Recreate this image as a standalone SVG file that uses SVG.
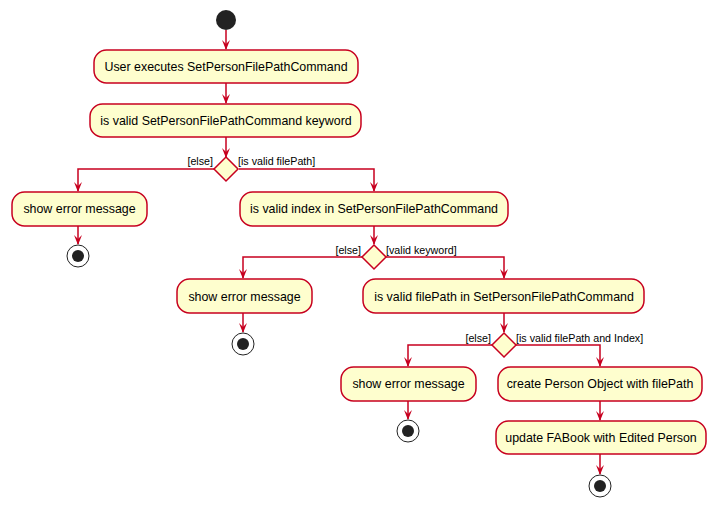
<svg xmlns="http://www.w3.org/2000/svg" width="715" height="506" viewBox="0 0 715 506">
<style>
.box{fill:#FEFECE;stroke:#C7001F;stroke-width:1.5}
.dia{fill:#FEFECE;stroke:#C7001F;stroke-width:1.5}
.t{font-family:"Liberation Sans",Arial,sans-serif;font-size:12.4px;fill:#000;text-anchor:middle}
.l{font-family:"Liberation Sans",Arial,sans-serif;font-size:10.7px;fill:#000}
.e{text-anchor:end}
.c{fill:none;stroke:#C7001F;stroke-width:1.5}
.ah{fill:#C7001F}
.end-o{fill:#fff;stroke:#222;stroke-width:1}
.dot{fill:#222}
</style>
<g id="connectors">
<path class="c" d="M226,30 V49"/>
<polygon class="ah" points="222,40 226,50 230,40 226,44"/>
<path class="c" d="M226,83 V103"/>
<polygon class="ah" points="222,94 226,104 230,94 226,98"/>
<path class="c" d="M226,137 V157"/>
<polygon class="ah" points="222,148 226,158 230,148 226,152"/>
<path class="c" d="M214,169 H78 V191"/>
<polygon class="ah" points="74,182 78,192 82,182 78,186"/>
<path class="c" d="M239,169 H374 V191"/>
<polygon class="ah" points="370,182 374,192 378,182 374,186"/>
<path class="c" d="M78,226 V244"/>
<polygon class="ah" points="74,235 78,245 82,235 78,239"/>
<path class="c" d="M374,226 V244"/>
<polygon class="ah" points="370,235 374,245 378,235 374,239"/>
<path class="c" d="M362,257 H243 V278"/>
<polygon class="ah" points="239,269 243,279 247,269 243,273"/>
<path class="c" d="M386,257 H504 V278"/>
<polygon class="ah" points="500,269 504,279 508,269 504,273"/>
<path class="c" d="M243,313 V332"/>
<polygon class="ah" points="239,323 243,333 247,323 243,327"/>
<path class="c" d="M504,313 V332"/>
<polygon class="ah" points="500,323 504,333 508,323 504,327"/>
<path class="c" d="M492,345 H408 V366"/>
<polygon class="ah" points="404,357 408,367 412,357 408,361"/>
<path class="c" d="M516,345 H600 V366"/>
<polygon class="ah" points="596,357 600,367 604,357 600,361"/>
<path class="c" d="M408,401 V419"/>
<polygon class="ah" points="404,410 408,420 412,410 408,414"/>
<path class="c" d="M600,401 V420"/>
<polygon class="ah" points="596,411 600,421 604,411 600,415"/>
<path class="c" d="M600,454 V474"/>
<polygon class="ah" points="596,465 600,475 604,465 600,469"/>
<text class="l e" x="213" y="165">[else]</text>
<text class="l" x="238" y="165">[is valid filePath]</text>
<text class="l e" x="361" y="254">[else]</text>
<text class="l" x="386" y="254">[valid keyword]</text>
<text class="l e" x="491" y="342">[else]</text>
<text class="l" x="516" y="342">[is valid filePath and Index]</text>
</g>
<g id="start"><circle class="dot" cx="226" cy="20" r="10"/></g>
<g id="n1"><rect class="box" x="94" y="50" width="264" height="33" rx="12.5"/><text class="t" x="226" y="71">User executes SetPersonFilePathCommand</text></g>
<g id="n2"><rect class="box" x="90" y="104" width="271" height="33" rx="12.5"/><text class="t" x="226" y="125">is valid SetPersonFilePathCommand keyword</text></g>
<g id="d1"><polygon class="dia" points="226,157 238,169 226,181 214,169"/></g>
<g id="n3"><rect class="box" x="12" y="192" width="135" height="34" rx="12.5"/><text class="t" x="79.5" y="213">show error message</text></g>
<g id="end1"><circle class="end-o" cx="78" cy="256" r="11"/><circle class="dot" cx="78" cy="256" r="6"/></g>
<g id="n4"><rect class="box" x="240" y="192" width="268" height="34" rx="12.5"/><text class="t" x="374" y="213">is valid index in SetPersonFilePathCommand</text></g>
<g id="d2"><polygon class="dia" points="374,245 386,257 374,269 362,257"/></g>
<g id="n5"><rect class="box" x="177" y="279" width="135" height="34" rx="12.5"/><text class="t" x="244.5" y="301">show error message</text></g>
<g id="end2"><circle class="end-o" cx="243" cy="344" r="11"/><circle class="dot" cx="243" cy="344" r="6"/></g>
<g id="n6"><rect class="box" x="363" y="279" width="281" height="34" rx="12.5"/><text class="t" x="504" y="301">is valid filePath in SetPersonFilePathCommand</text></g>
<g id="d3"><polygon class="dia" points="504,333 516,345 504,357 492,345"/></g>
<g id="n7"><rect class="box" x="341" y="367" width="135" height="34" rx="12.5"/><text class="t" x="408.5" y="388">show error message</text></g>
<g id="end3"><circle class="end-o" cx="408" cy="431" r="11"/><circle class="dot" cx="408" cy="431" r="6"/></g>
<g id="n8"><rect class="box" x="498" y="367" width="204" height="34" rx="12.5"/><text class="t" x="600" y="388">create Person Object with filePath</text></g>
<g id="n9"><rect class="box" x="496" y="421" width="210" height="33" rx="12.5"/><text class="t" x="601" y="442">update FABook with Edited Person</text></g>
<g id="end4"><circle class="end-o" cx="600" cy="486" r="11"/><circle class="dot" cx="600" cy="486" r="6"/></g>
</svg>
